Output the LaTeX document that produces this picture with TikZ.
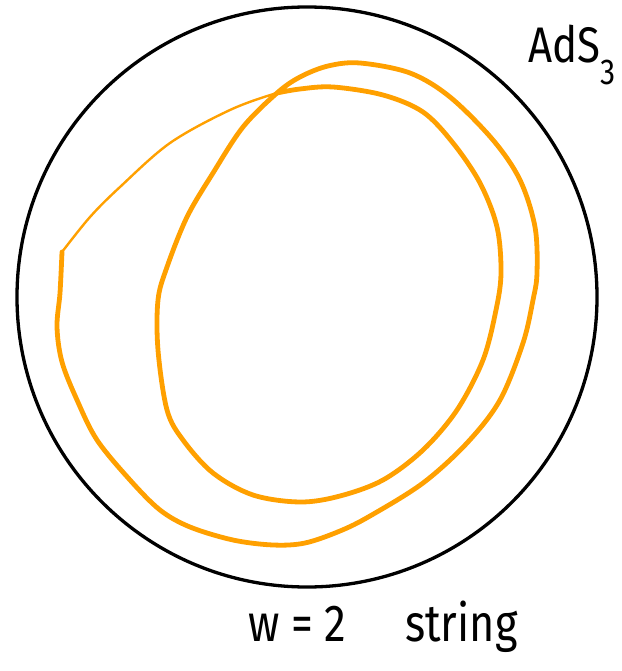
\documentclass[tikz,border=0pt]{standalone}
\usepackage{fontspec}
\setmainfont{Fira Sans}
\definecolor{strcol}{RGB}{255,160,0}
\tikzset{
  bdry/.style={draw=black, line width=3.3pt},
  strthick/.style={draw=strcol, line width=4.8pt, line cap=round, line join=round},
  strthin/.style={draw=strcol, line width=2.4pt, line cap=round, line join=round},
  hand/.style={inner sep=0pt, text=black}
}
\begin{document}
\begin{tikzpicture}[x=1pt,y=-1pt]
\useasboundingbox (0,0) rectangle (621,671);
\path[bdry] (307,297) circle[radius=290];
\draw[strthick] plot[smooth, tension=0.55] coordinates {
 (62,252) (60,293) (57,327) (62,362) (77,400) (97,440) (130,480) (160,510)
 (190,527) (233,540) (273,545) (305,543) (340,531) (370,516) (423,483)
 (467,443) (500,400) (523,343) (533,300) (537,273) (535,227) (520,180)
 (493,140) (450,97) (410,73) (360,63) (328,66) (300,77) (277,93) (243,127)
 (213,173) (187,217) (167,267) (158,300) (158,350) (167,410) (183,440)
 (213,473) (253,495) (300,502) (340,496) (383,480) (423,450) (457,410)
 (483,360) (496,310) (501,273) (497,227) (480,183) (453,143) (423,112)
 (383,95) (333,87) (300,89) (277,93)};
\draw[strthin] plot[smooth, tension=0.55] coordinates {
 (333,87) (300,89) (277,93) (230,110) (170,143) (120,187) (90,217) (62,252)};
\node[hand, anchor=base west, xscale=0.84, font=\fontsize{50}{50}\selectfont] (ads) at (528,63)
  {AdS\raisebox{-22pt}{\fontsize{36}{36}\selectfont 3}};
\node[hand, anchor=base west, xscale=0.84, font=\fontsize{52}{52}\selectfont] (w2) at (248,641) {w = 2};
\node[hand, anchor=base west, xscale=0.83, font=\fontsize{52}{52}\selectfont] (str) at (405,641) {string};
\end{tikzpicture}
\end{document}
